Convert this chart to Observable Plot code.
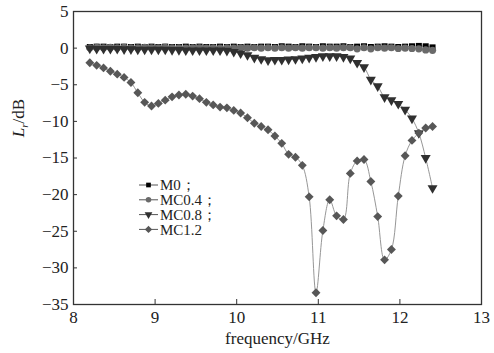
<!DOCTYPE html>
<html>
<head>
<meta charset="utf-8">
<script src="https://cdn.jsdelivr.net/npm/d3@7"></script>
<script src="https://cdn.jsdelivr.net/npm/@observablehq/plot@0.6"></script>
<style>
  html, body { margin: 0; padding: 0; background: #fff; }
  #wrap { position: relative; width: 494px; height: 353px; }
  #overlay { position: absolute; left: 0; top: 0; pointer-events: none; }
</style>
</head>
<body>
<div id="wrap"></div>
<script>
// ---- data ----
const freq = [8.200, 8.284, 8.368, 8.452, 8.536, 8.620, 8.704, 8.788, 8.872, 8.956,
  9.040, 9.124, 9.208, 9.292, 9.376, 9.460, 9.544, 9.628, 9.712, 9.796,
  9.880, 9.964, 10.048, 10.132, 10.216, 10.300, 10.384, 10.468, 10.552, 10.636,
  10.720, 10.804, 10.888, 10.972, 11.056, 11.140, 11.224, 11.308, 11.392, 11.476,
  11.560, 11.644, 11.728, 11.812, 11.896, 11.980, 12.064, 12.148, 12.232, 12.316, 12.400];

const seriesNames = ["M0；", "MC0.4；", "MC0.8；", "MC1.2"];

const m0 = [0.15, 0.2, 0.2, 0.15, 0.2, 0.2, 0.15, 0.2, 0.15, 0.2,
  0.15, 0.2, 0.15, 0.15, 0.2, 0.15, 0.2, 0.15, 0.15, 0.2,
  0.15, 0.2, 0.15, 0.2, 0.15, 0.2, 0.2, 0.15, 0.25, 0.2,
  0.15, 0.25, 0.2, 0.15, 0.25, 0.2, 0.2, 0.25, 0.15, 0.2,
  0.25, 0.15, 0.2, 0.25, 0.2, 0.15, 0.2, 0.25, 0.3, 0.25, 0.1];

const mc04 = [0.05, 0.1, 0.05, 0.1, 0.05, 0.1, 0.05, 0.05, 0.1, 0.05,
  0.05, 0.1, 0.05, 0.05, 0.0, 0.05, 0.05, 0.0, 0.05, 0.0,
  0.05, 0.0, 0.05, 0.0, 0.05, 0.0, 0.05, 0.0, 0.05, 0.0,
  0.05, 0.0, 0.05, 0.05, 0.0, 0.05, 0.0, 0.05, 0.05, -0.1,
  0.05, -0.1, 0.05, 0.0, 0.05, -0.05, 0.0, -0.05, -0.1, -0.25, -0.3];

const mc08 = [-0.05, -0.1, -0.1, -0.1, -0.1, -0.15, -0.15, -0.2, -0.2, -0.2,
  -0.2, -0.2, -0.25, -0.25, -0.3, -0.3, -0.3, -0.3, -0.3, -0.3,
  -0.35, -0.5, -0.7, -0.95, -1.3, -1.5, -1.65, -1.6, -1.6, -1.55,
  -1.5, -1.4, -1.3, -1.2, -1.1, -1.1, -1.1, -1.2, -1.4, -2.0,
  -2.6, -4.3, -5.2, -6.7, -7.1, -7.6, -8.4, -9.6, -11.6, -15.0, -19.1];

const mc12 = [-2.0, -2.35, -2.7, -3.15, -3.55, -4.0, -4.7, -6.1, -7.4, -7.9,
  -7.55, -7.1, -6.65, -6.4, -6.3, -6.55, -6.9, -7.4, -7.75, -8.05,
  -8.15, -8.5, -8.85, -9.5, -10.25, -10.7, -11.15, -12.0, -13.0, -14.5,
  -14.9, -16.0, -20.3, -33.4, -24.9, -20.7, -22.9, -23.4, -17.1, -15.4,
  -15.2, -18.2, -23.0, -28.9, -27.5, -20.2, -14.7, -12.6, -11.6, -10.9, -10.7];

const xTicks = [8, 9, 10, 11, 12, 13];
const yTicks = [5, 0, -5, -10, -15, -20, -25, -30, -35];

// ---- build table ----
const valueSets = [m0, mc04, mc08, mc12];
const tables = valueSets.map((vals, s) => freq.map((f, i) => ({ f, v: vals[i], s: seriesNames[s] })));

const styles = [
  { symbol: "square", r: 3.4, fill: "#000000", rotate: 0 },
  { symbol: "circle", r: 3.6, fill: "#6a6a6a", rotate: 0 },
  { symbol: "triangle", r: 3.7, fill: "#303030", rotate: 180 },
  { symbol: "diamond2", r: 4.0, fill: "#575757", rotate: 0 }
];

const W = 494, H = 353;
const mL = 73, mR = 13, mT = 11, mB = 49;
const frameW = W - mL - mR, frameH = H - mT - mB;
const serif = "'Liberation Serif', 'Times New Roman', serif";

const marks = [];
tables.forEach((t, s) => {
  marks.push(Plot.line(t, { x: "f", y: "v", curve: "catmull-rom", stroke: "#8a8a8a", strokeWidth: 0.9 }));
  const st = styles[s];
  marks.push(Plot.dot(t, { x: "f", y: "v", symbol: () => st.symbol, r: st.r, fill: st.fill, stroke: "none", rotate: st.rotate }));
});

const chart = Plot.plot({
  width: W,
  height: H,
  marginLeft: mL,
  marginRight: mR,
  marginTop: mT,
  marginBottom: mB,
  style: { fontFamily: serif, fontSize: "17px", background: "#fff", color: "#222" },
  x: { domain: [8, 13] },
  y: { domain: [-35, 5] },
  symbol: { type: "identity" },
  marks: [
    Plot.axisX(xTicks, { tickSize: 0, tickPadding: 6, fontSize: 17, label: null, fill: "#222" }),
    Plot.axisY(yTicks, { tickSize: 0, tickPadding: 5, fontSize: 17, label: null, fill: "#222" }),
    Plot.tickX(xTicks.slice(1, -1), { x: d => d, insetTop: frameH - 5, stroke: "#333", strokeWidth: 1 }),
    Plot.tickY(yTicks.slice(1, -1), { y: d => d, insetRight: frameW - 4, stroke: "#333", strokeWidth: 1 }),
    ...marks,
    Plot.frame({ stroke: "#333", strokeWidth: 1.3 }),
    Plot.text(["frequency/GHz"], { frameAnchor: "bottom", dy: 39, fontSize: 17, fill: "#222" })
  ]
});

const wrap = document.getElementById("wrap");
wrap.appendChild(chart);

// ---- overlay: legend + y label ----
const ov = d3.select(wrap).append("svg")
  .attr("id", "overlay").attr("width", W).attr("height", H)
  .style("font-family", serif);

const symMap = { square: d3.symbolSquare, circle: d3.symbolCircle, triangle: d3.symbolTriangle, diamond2: d3.symbolDiamond2 };
const legSizes = [22, 24, 26, 34];
seriesNames.forEach((name, s) => {
  const y = 185 + s * 14.8;
  const g = ov.append("g");
  g.append("line").attr("x1", 139).attr("x2", 158).attr("y1", y).attr("y2", y)
    .attr("stroke", "#555").attr("stroke-width", 1);
  g.append("path")
    .attr("d", d3.symbol(symMap[styles[s].symbol], legSizes[s])())
    .attr("transform", `translate(148.5,${y}) rotate(${styles[s].rotate})`)
    .attr("fill", styles[s].fill);
  g.append("text").attr("x", 160).attr("y", y).attr("dy", "0.35em")
    .attr("font-size", 15).attr("fill", "#222").text(name);
});

const yl = ov.append("text")
  .attr("transform", "translate(24,118) rotate(-90)")
  .attr("text-anchor", "middle").attr("font-size", 17).attr("fill", "#222");
yl.append("tspan").attr("font-style", "italic").text("L");
yl.append("tspan").attr("font-size", 11).attr("dy", 4).attr("font-style", "italic").text("r");
yl.append("tspan").attr("dy", -4).text("/dB");
</script>
</body>
</html>
